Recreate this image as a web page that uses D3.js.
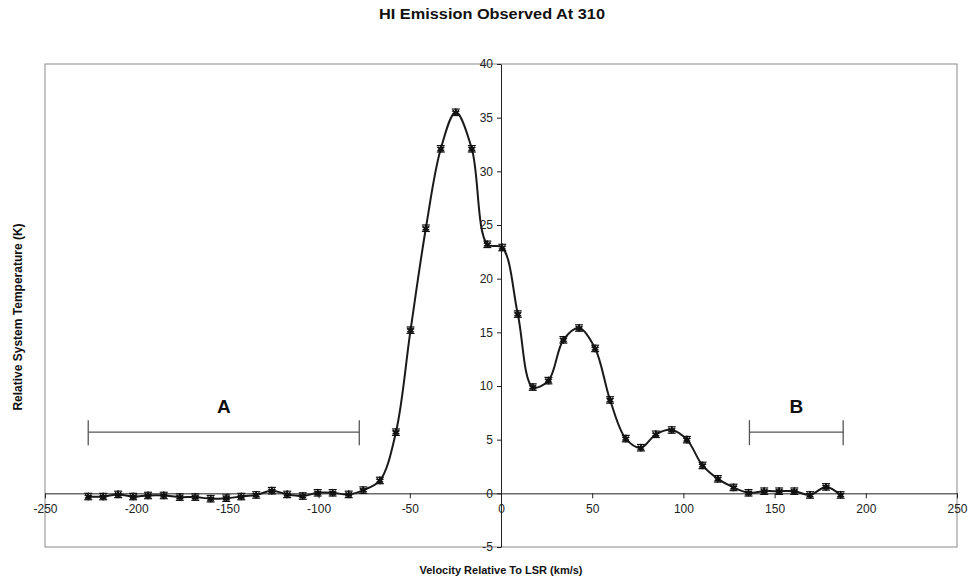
<!DOCTYPE html>
<html>
<head>
<meta charset="utf-8">
<script src="https://cdn.jsdelivr.net/npm/d3@7/dist/d3.min.js"></script>
<style>
  html, body { margin: 0; padding: 0; background: #fff; }
  svg { display: block; }
  text { font-family: "Liberation Sans", Arial, sans-serif; }
</style>
</head>
<body>
<svg id="chart" width="969" height="580"></svg>
<script>
// ---- data ----
const velocity = [-226.3,-218.1,-209.9,-201.7,-193.5,-184.9,-176.1,-167.6,-159.2,-150.6,
  -142.4,-134.2,-125.6,-117.2,-108.7,-100.5,-92.3,-83.5,-75.5,-66.4,
  -57.6,-49.6,-41.2,-33.0,-24.8,-16.0,-7.5,0.7,9.2,17.4,
  26.0,34.2,42.8,51.6,59.8,68.4,76.7,84.9,93.6,101.9,
  110.5,118.9,127.5,135.7,144.3,152.5,160.8,169.4,178.2,186.2];
const temperature = [-0.3,-0.3,-0.1,-0.3,-0.2,-0.2,-0.35,-0.35,-0.5,-0.45,
  -0.3,-0.15,0.25,-0.1,-0.25,0.05,0.05,-0.1,0.3,1.2,
  5.7,15.2,24.7,32.1,35.5,32.1,23.2,22.9,16.7,9.9,
  10.5,14.3,15.4,13.5,8.7,5.1,4.25,5.5,5.9,5.0,
  2.6,1.35,0.55,0.05,0.2,0.2,0.2,-0.15,0.6,-0.15];
const errorK = [0.3,0.3,0.3,0.3,0.3,0.3,0.3,0.3,0.3,0.3,
  0.3,0.3,0.3,0.3,0.3,0.3,0.3,0.3,0.3,0.3,
  0.3,0.3,0.3,0.3,0.3,0.3,0.3,0.3,0.3,0.3,
  0.3,0.3,0.3,0.3,0.3,0.3,0.3,0.3,0.3,0.3,
  0.3,0.3,0.3,0.3,0.3,0.3,0.3,0.3,0.3,0.3];
const xTicks = [-250,-200,-150,-100,-50,0,50,100,150,200,250];
const yTicks = [-5,0,5,10,15,20,25,30,35,40];
const regionLabels = ["A","B"];
const regionStart = [-226.3, 136.2];
const regionEnd = [-77.7, 187.6];
const regionLevel = [5.7, 5.7];

const titleText = "HI Emission Observed At 310";
const xTitle = "Velocity Relative To LSR (km/s)";
const yTitle = "Relative System Temperature (K)";

// ---- layout ----
const svg = d3.select("#chart");
const plot = {left: 45, right: 957, top: 64, bottom: 547};

const x = d3.scaleLinear().domain([-250, 250]).range([plot.left, plot.right]);
const y = d3.scaleLinear().domain([-5, 40]).range([plot.bottom, plot.top]);

const points = velocity.map((v, i) => ({v, t: temperature[i], e: errorK[i]}));
const fmt = d => String(d);

// plot area border
svg.append("rect")
  .attr("x", plot.left).attr("y", plot.top)
  .attr("width", plot.right - plot.left).attr("height", plot.bottom - plot.top)
  .attr("fill", "none").attr("stroke", "#8a8a8a").attr("stroke-width", 1);

// x axis at y=0
const xAxis = d3.axisBottom(x).tickValues(xTicks).tickFormat(fmt).tickSize(5).tickSizeOuter(0).tickPadding(6);
const gx = svg.append("g").attr("transform", `translate(0,${y(0)})`).call(xAxis);
gx.select(".domain").attr("stroke", "#222");
gx.selectAll(".tick line").attr("stroke", "#222");
gx.selectAll(".tick text").attr("font-size", 12).attr("fill", "#222")
  .attr("font-family", "Liberation Sans, Arial, sans-serif");

// y axis at x=0
const yAxis = d3.axisLeft(y).tickValues(yTicks).tickFormat(fmt).tickSize(4).tickSizeOuter(0).tickPadding(4);
const gy = svg.append("g").attr("transform", `translate(${x(0)},0)`).call(yAxis);
gy.select(".domain").attr("stroke", "#222");
gy.selectAll(".tick line").attr("stroke", "#222");
gy.selectAll(".tick text").attr("font-size", 12).attr("fill", "#222")
  .attr("font-family", "Liberation Sans, Arial, sans-serif");

// smooth line
const line = d3.line().x(d => x(d.v)).y(d => y(d.t)).curve(d3.curveCatmullRom.alpha(0.5));
svg.append("path").datum(points)
  .attr("d", line).attr("fill", "none")
  .attr("stroke", "#1a1a1a").attr("stroke-width", 2);

// error bars
const eb = svg.append("g").attr("stroke", "#111").attr("stroke-width", 1.2);
eb.selectAll("line.v").data(points).join("line").attr("class", "v")
  .attr("x1", d => x(d.v)).attr("x2", d => x(d.v))
  .attr("y1", d => y(d.t - d.e)).attr("y2", d => y(d.t + d.e));
eb.selectAll("line.top").data(points).join("line").attr("class", "top")
  .attr("x1", d => x(d.v) - 4).attr("x2", d => x(d.v) + 4)
  .attr("y1", d => y(d.t + d.e)).attr("y2", d => y(d.t + d.e));
eb.selectAll("line.bot").data(points).join("line").attr("class", "bot")
  .attr("x1", d => x(d.v) - 4).attr("x2", d => x(d.v) + 4)
  .attr("y1", d => y(d.t - d.e)).attr("y2", d => y(d.t - d.e));

// markers (star-like)
const star = d3.symbol().type(d3.symbolAsterisk).size(40);
const star2 = d3.symbol().type(d3.symbolStar).size(22);
svg.append("g").selectAll("path.m").data(points).join("path").attr("class", "m")
  .attr("transform", d => `translate(${x(d.v)},${y(d.t)})`)
  .attr("d", star).attr("fill", "none").attr("stroke", "#111").attr("stroke-width", 1.6);
svg.append("g").selectAll("path.m2").data(points).join("path").attr("class", "m2")
  .attr("transform", d => `translate(${x(d.v)},${y(d.t)})`)
  .attr("d", star2).attr("fill", "#111");

// region brackets
regionLabels.forEach((lab, i) => {
  const g = svg.append("g").attr("stroke", "#555").attr("stroke-width", 1.3);
  const yy = y(regionLevel[i]);
  g.append("line").attr("x1", x(regionStart[i])).attr("x2", x(regionEnd[i])).attr("y1", yy).attr("y2", yy);
  g.append("line").attr("x1", x(regionStart[i])).attr("x2", x(regionStart[i])).attr("y1", yy - 12).attr("y2", yy + 13);
  g.append("line").attr("x1", x(regionEnd[i])).attr("x2", x(regionEnd[i])).attr("y1", yy - 12).attr("y2", yy + 13);
  svg.append("text").attr("x", (x(regionStart[i]) + x(regionEnd[i])) / 2).attr("y", yy - 19)
    .attr("text-anchor", "middle").attr("font-size", 19).attr("font-weight", "bold")
    .attr("fill", "#111").text(lab);
});

// titles
svg.append("text").attr("x", 492).attr("y", 19).attr("text-anchor", "middle")
  .attr("font-size", 15).attr("font-weight", "bold").attr("fill", "#111")
  .attr("textLength", 226).attr("lengthAdjust", "spacingAndGlyphs").text(titleText);
svg.append("text").attr("x", 501).attr("y", 574).attr("text-anchor", "middle")
  .attr("font-size", 11).attr("font-weight", "bold").attr("fill", "#111").text(xTitle);
svg.append("text").attr("transform", "translate(22,317) rotate(-90)").attr("text-anchor", "middle")
  .attr("font-size", 12).attr("font-weight", "bold").attr("fill", "#111").text(yTitle);
</script>
</body>
</html>
